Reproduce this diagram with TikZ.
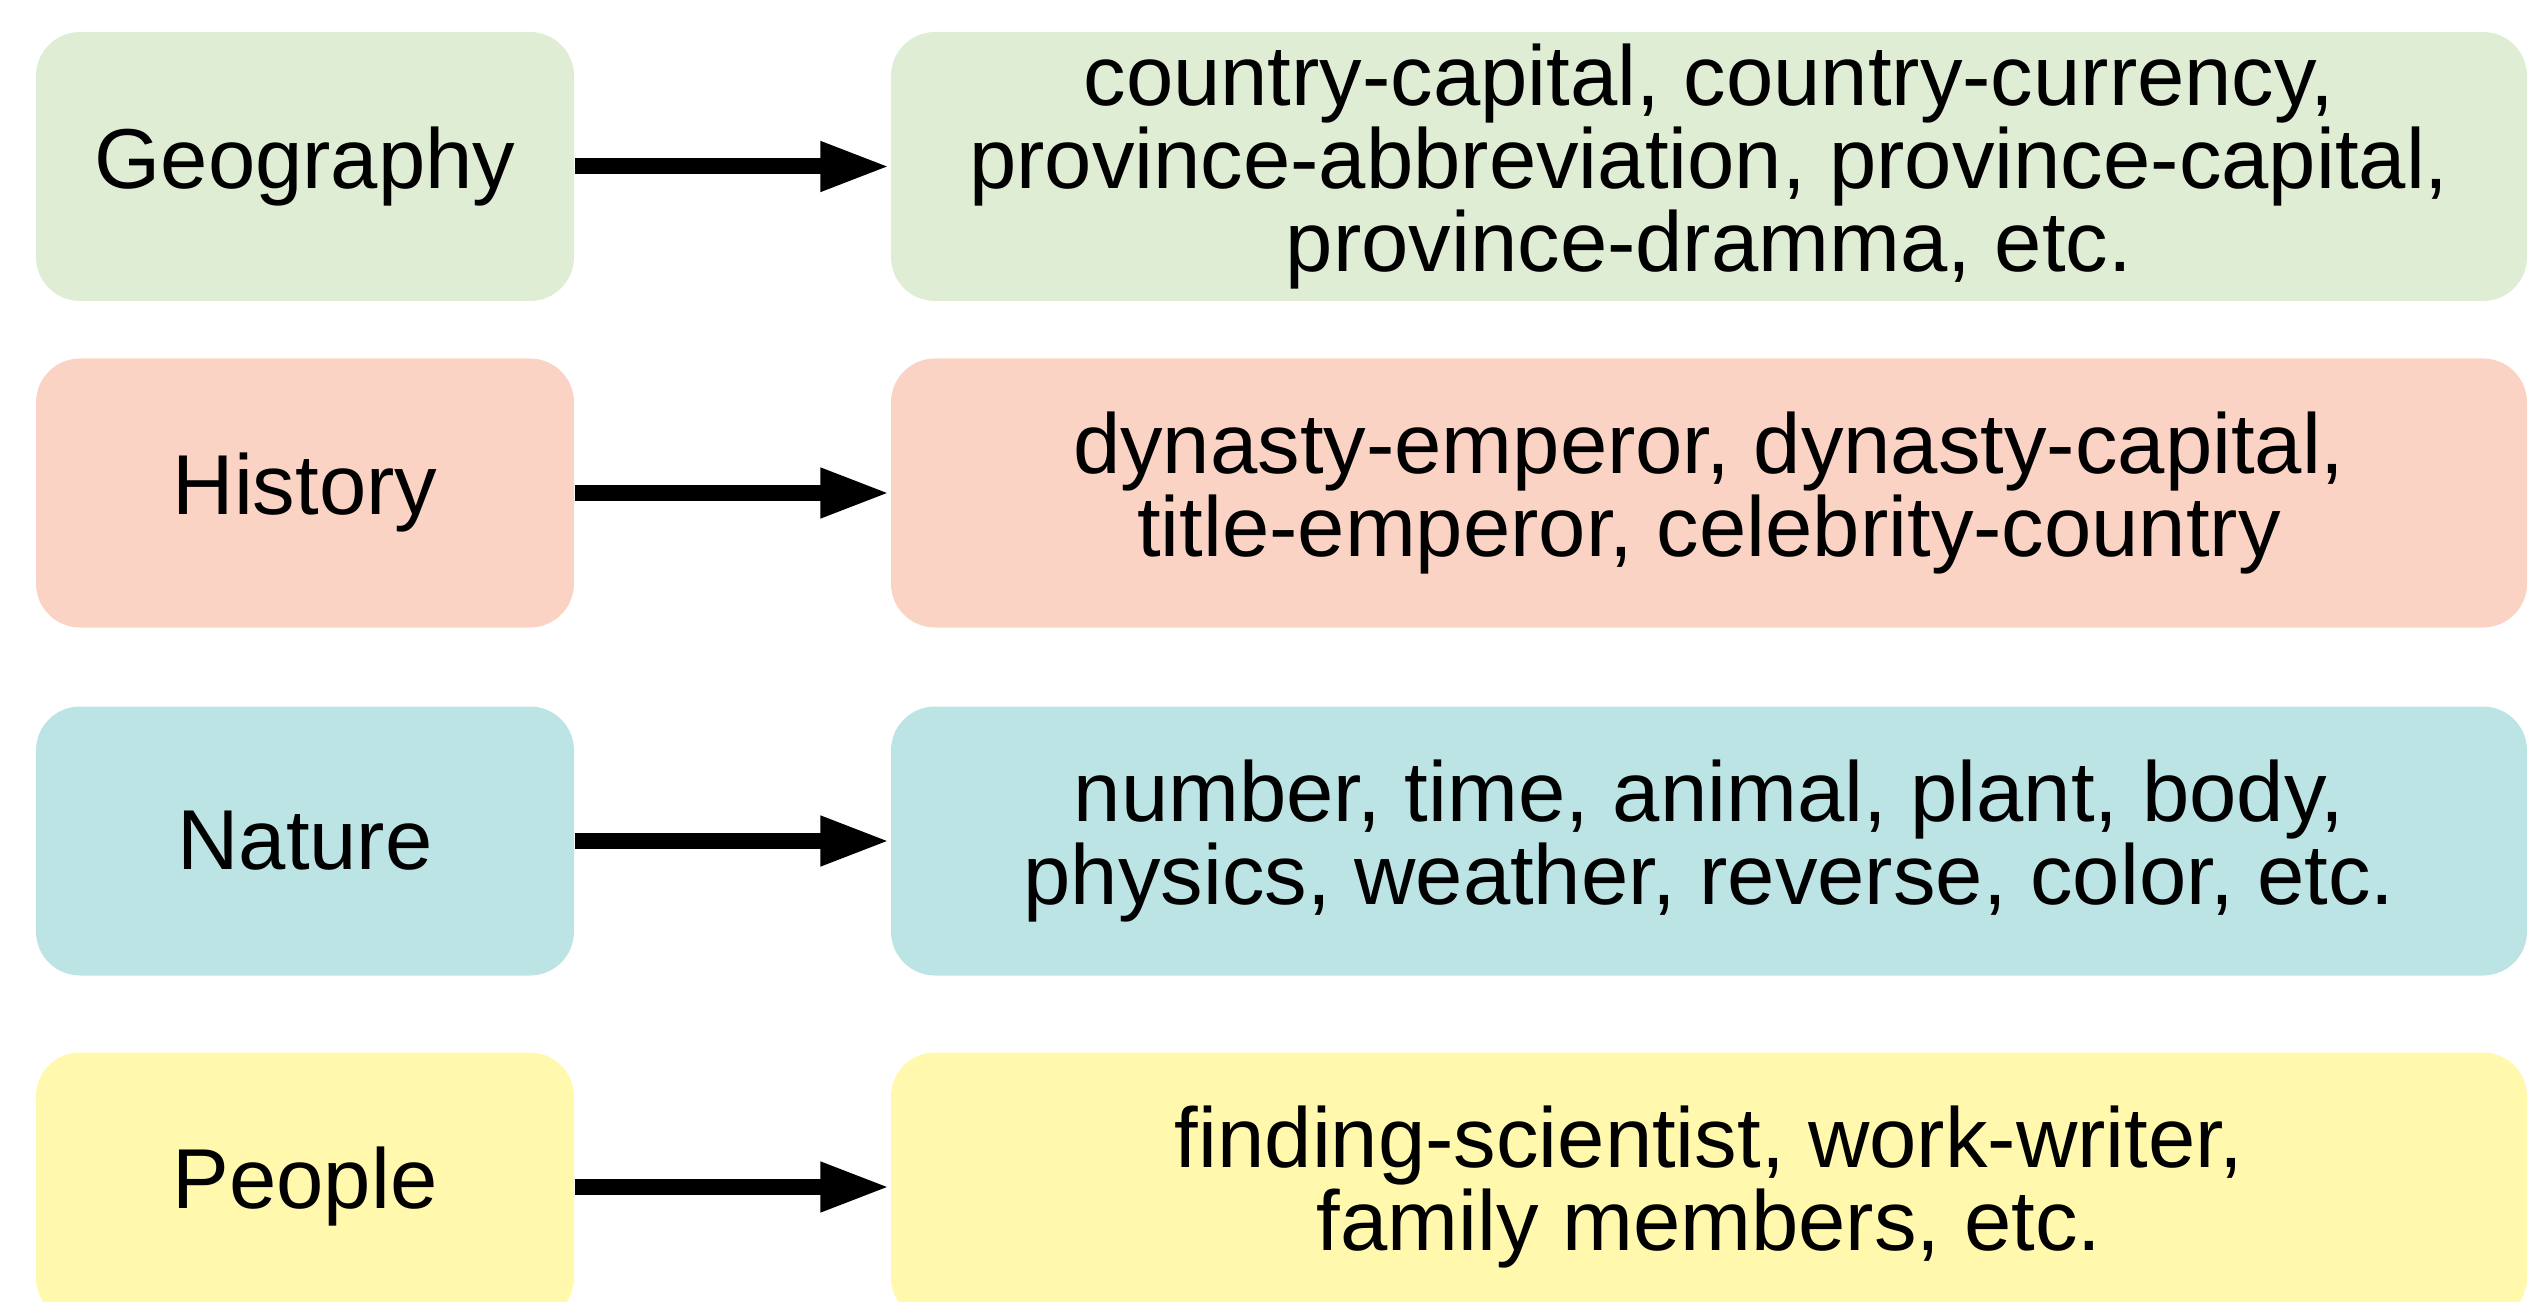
\documentclass[tikz,border=0pt]{standalone}
\usepackage{fontspec}
\setmainfont{Liberation Sans}
\usetikzlibrary{arrows.meta}

\definecolor{geogreen}{RGB}{224,237,213}
\definecolor{histred}{RGB}{250,211,196}
\definecolor{natblue}{RGB}{188,228,229}
\definecolor{peopleyellow}{RGB}{255,248,173}

\begin{document}
\begin{tikzpicture}[
    box/.style={rounded corners=0.44cm, minimum height=2.69cm, align=center,
      inner sep=0pt, font=\fontsize{24.2}{22.5}\selectfont},
    cat/.style={box, minimum width=5.38cm},
    items/.style={box, minimum width=16.36cm},
    link/.style={line width=0.16cm, -{Triangle[length=0.7cm,width=0.46cm]}}
  ]
    \useasboundingbox (0,0) rectangle (25.36,-13.02);
    \clip (0,0) rectangle (25.36,-13.02);

    % Draw the categories
    \node[cat, fill=geogreen] (geo) at (3.05,-1.665) {Geography};
    \node[cat, fill=histred] (hist) at (3.05,-4.93) {History};
    \node[cat, fill=natblue] (nat) at (3.05,-8.41) {Nature};
    \node[cat, fill=peopleyellow] (people) at (3.05,-11.87) {People};

    % relation lists
    \node[items, fill=geogreen] (geolist) at (17.09,-1.665)
      {country-capital, country-currency,\\
       province-abbreviation, province-capital,\\
       province-dramma, etc.};
    \node[items, fill=histred] (histlist) at (17.09,-4.93)
      {dynasty-emperor, dynasty-capital,\\
       title-emperor, celebrity-country};
    \node[items, fill=natblue] (natlist) at (17.09,-8.41)
      {number, time, animal, plant, body,\\
       physics, weather, reverse, color, etc.};
    \node[items, fill=peopleyellow] (peoplelist) at (17.09,-11.87)
      {finding-scientist, work-writer,\\
       family members, etc.};

    % draw arrows
    \draw[link] (geo) -- (geolist);
    \draw[link] (hist) -- (histlist);
    \draw[link] (nat) -- (natlist);
    \draw[link] (people) -- (peoplelist);
\end{tikzpicture}
\end{document}
